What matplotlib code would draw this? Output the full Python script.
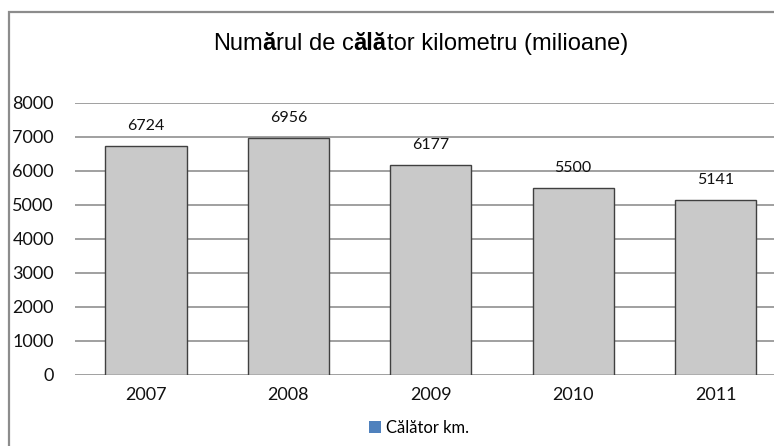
import matplotlib
matplotlib.use('Agg')
import matplotlib.pyplot as plt
from matplotlib.patches import Patch, Rectangle

# chart values
years = ['2007', '2008', '2009', '2010', '2011']
values = [6724, 6956, 6177, 5500, 5141]
yticks = [0, 1000, 2000, 3000, 4000, 5000, 6000, 7000, 8000]
title_parts = [("Num", "normal"), ("ă", "bold"), ("rul de c", "normal"),
               ("ălă", "bold"), ("tor kilometru (milioane)", "normal")]
legend_label = 'Călător km.'

num_font = 'Lato'
title_font = 'Liberation Sans'

fig = plt.figure(figsize=(7.74, 4.46), dpi=100)
ax = fig.add_axes([74.8 / 774, 1 - 374.7 / 446, 712 / 774, 272 / 446])

x = range(len(years))
ax.bar(x, values, width=0.57, color='#c9c9c9', edgecolor='#404040',
       linewidth=1.0, zorder=3)

for i, v in zip(x, values):
  ax.annotate(str(v), xy=(i, v), xytext=(0, 14.5), textcoords='offset points',
              ha='center', va='center', fontsize=11.5, family=num_font,
              color='#111111')

ax.set_xlim(-0.5, len(years) - 0.5)
ax.set_ylim(0, 8000)
ax.set_yticks(yticks)
ax.set_xticks(list(x))
ax.set_xticklabels(years)
ax.yaxis.grid(True, color='#868686', linewidth=1.1)
ax.set_axisbelow(True)
for s in ax.spines.values():
  s.set_visible(False)
ax.tick_params(axis='y', length=0, pad=15, labelsize=13)
ax.tick_params(axis='x', length=0, pad=9, labelsize=13)
for lab in ax.get_xticklabels() + ax.get_yticklabels():
  lab.set_family(num_font)
  lab.set_color('#111111')

# title with bold pieces, chained one after another
prev = fig.text(213 / 774, 1 - 55 / 446, title_parts[0][0], fontsize=17,
                family=title_font, fontweight=title_parts[0][1], va='bottom')
for txt, w in title_parts[1:]:
  prev = ax.annotate(txt, xy=(1, 0), xycoords=prev, va='bottom', ha='left',
                     fontsize=17, family=title_font, fontweight=w,
                     annotation_clip=False)

# legend (proxy patch in the default series colour)
handle = Patch(facecolor='#4f81bd', edgecolor='none')
fig.legend([handle], [legend_label], loc='center',
           bbox_to_anchor=(419 / 774, 1 - 428 / 446), frameon=False,
           handlelength=0.7, handleheight=0.7, handletextpad=0.3,
           prop={'family': num_font, 'size': 12})

# outer chart border (the picture is cropped on the right and bottom)
fig.patches.append(Rectangle((8.5 / 774, -0.1), 1.2, 1 - 11.5 / 446 + 0.1,
                             transform=fig.transFigure, fill=False,
                             edgecolor='#8c8c8c', linewidth=1.6))

plt.savefig('out.png', dpi=100)
